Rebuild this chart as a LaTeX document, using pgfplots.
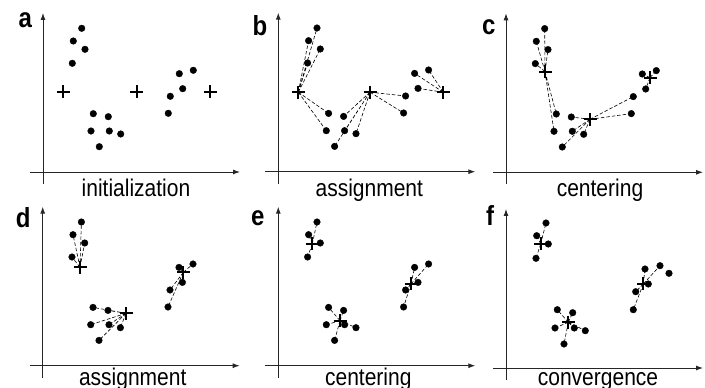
\documentclass[border=0pt]{standalone}
\usepackage{pgfplots}
\pgfplotsset{compat=1.18}
\usepackage{pgfplotstable}
\usepackage{fontspec}
\setmainfont{Liberation Sans}
\usetikzlibrary{arrows.meta}

\pgfplotstableread{
x y
38.7 143.7
30.3 131.0
42.0 122.7
29.3 108.7
50.3 58.3
65.3 55.3
48.0 41.0
66.3 41.0
77.7 38.0
56.3 25.3
150.3 101.7
136.3 98.3
139.7 83.3
127.3 75.7
125.3 58.7
}\pts

\pgfplotstableread{
x y
40.0 145.0
30.7 132.3
42.3 124.0
30.0 109.7
51.3 58.3
66.7 55.3
49.0 40.0
68.3 40.0
79.3 37.3
58.0 24.0
139.0 99.0
154.0 102.3
163.0 94.7
142.3 84.0
129.7 76.3
127.3 58.3
}\ptsf

\pgfplotsset{
  km/.style={scale only axis, width=210pt, height=171pt,
    xmin=-13, xmax=197, ymin=-12, ymax=159,
    axis lines=middle,
    axis line style={line width=0.9pt, black!85, -{Latex[length=7pt,width=5pt]}},
    xtick=\empty, ytick=\empty, clip=false, anchor=origin,
    unbounded coords=jump},
  dot/.style={only marks, mark=*, mark size=3.3pt, black},
  cen/.style={only marks, mark=+, mark size=6.5pt, black, line width=1.9pt, mark options={line width=1.9pt}},
  lnk/.style={black, line width=0.6pt, dash pattern=on 3.5pt off 2pt},
}
\tikzset{
  steplab/.style={font=\fontsize{21}{25}\selectfont, anchor=base, inner sep=0pt},
  panlet/.style={font=\fontsize{24}{28}\selectfont\bfseries, anchor=base west, inner sep=0pt},
}
\newcommand{\tall}[1]{\scalebox{1}[1.15]{#1}}

\begin{document}
\begin{tikzpicture}
\path[use as bounding box] (0,0) rectangle (705pt,388pt);

% a
\begin{axis}[km, at={(43pt,216pt)}]
\addplot[dot] table {\pts};
\addplot[cen] coordinates {(20.3,80.3) (93.7,80.3) (167,80.3)};
\node[steplab] at (axis cs:93,-24.5) {\tall{initialization}};
\node[panlet] at (axis cs:-24.5,144) {\tall{a}};
\end{axis}

% b
\begin{axis}[km, at={(278.3pt,216.3pt)}]
\addplot[lnk] coordinates {
(20,79.5) (38.7,143.7) (nan,nan) (20,79.5) (30.3,131) (nan,nan)
(20,79.5) (42,122.7) (nan,nan) (20,79.5) (29.3,108.7) (nan,nan)
(20,79.5) (50.3,58.3) (nan,nan) (20,79.5) (48,41) (nan,nan)
(91.7,79.5) (65.3,55.3) (nan,nan) (91.7,79.5) (66.3,41) (nan,nan)
(91.7,79.5) (77.7,38) (nan,nan) (91.7,79.5) (56.3,25.3) (nan,nan)
(91.7,79.5) (127.3,75.7) (nan,nan) (91.7,79.5) (125.3,58.7) (nan,nan)
(165,79.5) (150.3,101.7) (nan,nan) (165,79.5) (136.3,98.3) (nan,nan)
(165,79.5) (139.7,83.3)};
\addplot[dot] table {\pts};
\addplot[cen] coordinates {(20,79.5) (91.7,79.5) (165,79.5)};
\node[steplab] at (axis cs:91,-24.5) {\tall{assignment}};
\node[panlet] at (axis cs:-26,136) {\tall{b}};
\end{axis}

% c
\begin{axis}[km, at={(506pt,215.7pt)}]
\addplot[lnk] coordinates {
(39,100.7) (38.7,143.7) (nan,nan) (39,100.7) (30.3,131) (nan,nan)
(39,100.7) (42,122.7) (nan,nan) (39,100.7) (29.3,108.7) (nan,nan)
(39,100.7) (50.3,58.3) (nan,nan) (39,100.7) (48,41) (nan,nan)
(84,53) (65.3,55.3) (nan,nan) (84,53) (66.3,41) (nan,nan)
(84,53) (77.7,38) (nan,nan) (84,53) (56.3,25.3) (nan,nan)
(84,53) (127.3,75.7) (nan,nan) (84,53) (125.3,58.7) (nan,nan)
(144,94.7) (150.3,101.7) (nan,nan) (144,94.7) (136.3,98.3) (nan,nan)
(144,94.7) (139.7,83.3)};
\addplot[dot] table {\pts};
\addplot[cen] coordinates {(39,100.7) (84,53) (144,94.7)};
\node[steplab] at (axis cs:94,-24.5) {\tall{centering}};
\node[panlet] at (axis cs:-24,137.3) {\tall{c}};
\end{axis}

% d
\begin{axis}[km, at={(42.7pt,22.3pt)}]
\addplot[lnk] coordinates {
(37.3,98.4) (38.7,143.7) (nan,nan) (37.3,98.4) (30.3,131) (nan,nan)
(37.3,98.4) (42,122.7) (nan,nan) (37.3,98.4) (29.3,108.7) (nan,nan)
(83.3,52.4) (50.3,58.3) (nan,nan) (83.3,52.4) (48,41) (nan,nan)
(83.3,52.4) (65.3,55.3) (nan,nan) (83.3,52.4) (66.3,41) (nan,nan)
(83.3,52.4) (77.7,38) (nan,nan) (83.3,52.4) (56.3,25.3) (nan,nan)
(140.6,93.4) (127.3,75.7) (nan,nan) (140.6,93.4) (125.3,58.7) (nan,nan)
(140.6,93.4) (150.3,101.7) (nan,nan) (140.6,93.4) (136.3,98.3) (nan,nan)
(140.6,93.4) (139.7,83.3)};
\addplot[dot] table {\pts};
\addplot[cen] coordinates {(37.3,98.4) (83.3,52.4) (140.6,93.4)};
\node[steplab] at (axis cs:90,-20.3) {\tall{assignment}};
\node[panlet] at (axis cs:-27,137.7) {\tall{d}};
\end{axis}

% e
\begin{axis}[km, at={(278.3pt,22.3pt)}]
\addplot[lnk] coordinates {
(34,121.7) (38.7,143.7) (nan,nan) (34,121.7) (30.3,131) (nan,nan)
(34,121.7) (42,122.7) (nan,nan) (34,121.7) (29.3,108.7) (nan,nan)
(61.7,45) (50.3,58.3) (nan,nan) (61.7,45) (48,41) (nan,nan)
(61.7,45) (65.3,55.3) (nan,nan) (61.7,45) (66.3,41) (nan,nan)
(61.7,45) (77.7,38) (nan,nan) (61.7,45) (56.3,25.3) (nan,nan)
(132.7,81.7) (127.3,75.7) (nan,nan) (132.7,81.7) (125.3,58.7) (nan,nan)
(132.7,81.7) (150.3,101.7) (nan,nan) (132.7,81.7) (136.3,98.3) (nan,nan)
(132.7,81.7) (139.7,83.3)};
\addplot[dot] table {\pts};
\addplot[cen] coordinates {(34,121.7) (61.7,45) (132.7,81.7)};
\node[steplab] at (axis cs:90,-20.3) {\tall{centering}};
\node[panlet] at (axis cs:-27.5,140) {\tall{e}};
\end{axis}

% f
\begin{axis}[km, at={(506pt,20pt)}]
\addplot[lnk] coordinates {
(34.7,124) (40,145) (nan,nan) (34.7,124) (30.7,132.3) (nan,nan)
(34.7,124) (42.3,124) (nan,nan) (34.7,124) (30,109.7) (nan,nan)
(62.3,45.7) (51.3,58.3) (nan,nan) (62.3,45.7) (66.7,55.3) (nan,nan)
(62.3,45.7) (49,40) (nan,nan) (62.3,45.7) (68.3,40) (nan,nan)
(62.3,45.7) (79.3,37.3) (nan,nan) (62.3,45.7) (58,24) (nan,nan)
(137.3,84) (139,99) (nan,nan) (137.3,84) (154,102.3) (nan,nan)
(137.3,84) (142.3,84) (nan,nan) (137.3,84) (129.7,76.3) (nan,nan)
(137.3,84) (127.3,58.3)};
\addplot[dot] table {\ptsf};
\addplot[cen] coordinates {(34.7,124) (62.3,45.7) (137.3,84)};
\node[steplab] at (axis cs:92,-18) {\tall{convergence}};
\node[panlet] at (axis cs:-20,142.3) {\tall{f}};
\end{axis}
\end{tikzpicture}
\end{document}
